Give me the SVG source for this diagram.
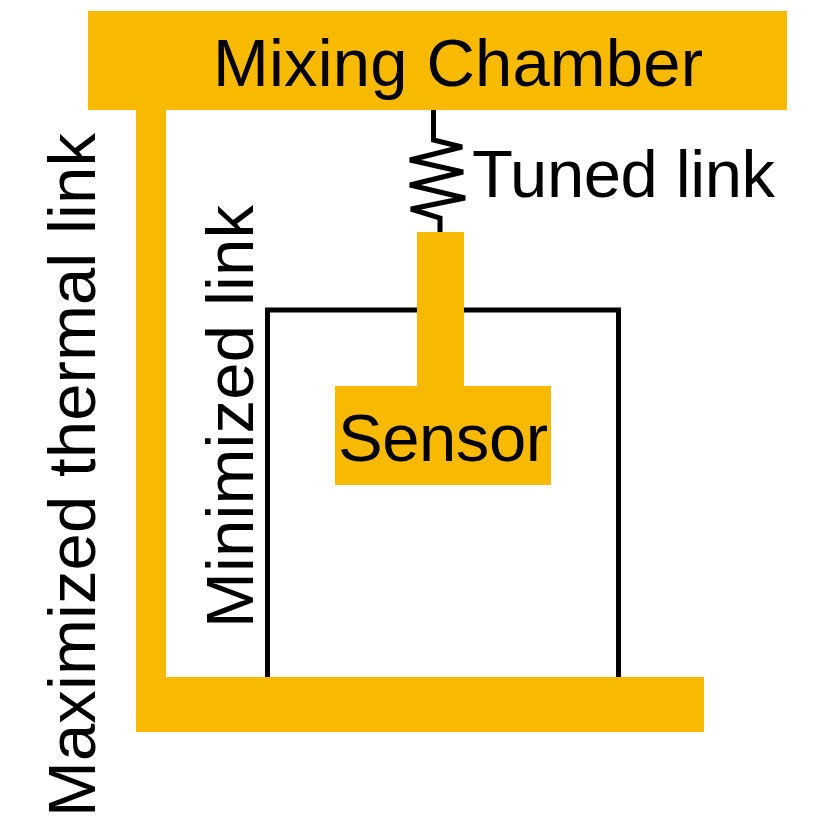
<svg xmlns="http://www.w3.org/2000/svg" width="830" height="816" viewBox="0 0 830 816">
<style>
.o{fill:#f8ba00}
.l{fill:none;stroke:#000;stroke-width:5}
text{font-family:"Liberation Sans",Arial,sans-serif;fill:#000;font-size:67px}
</style>
<rect width="830" height="816" fill="#fff"/>
<g id="connectors">
<path class="l" d="M267.500 678V310H618.500V678"/>
<path class="l" d="M433.500 110V140L462 147L410 160L463 172L410 185L465 198L411 209L440 218V232"/>
</g>
<g id="mixing-chamber"><rect class="o" x="88" y="11" width="699" height="99"/><text x="213" y="86" textLength="490">Mixing Chamber</text></g>
<g id="maximized-link"><path class="o" d="M136 110H166V677H704V732H136Z"/><text transform="translate(94.500 817) rotate(-90)" textLength="684">Maximized thermal link</text></g>
<g id="sensor"><path class="o" d="M417 232H464V386H551V485H335V386H417Z"/><text x="338" y="460.500" textLength="210">Sensor</text></g>
<g id="tuned-link"><text x="472" y="197" textLength="303">Tuned link</text></g>
<g id="minimized-link"><text transform="translate(252.500 628) rotate(-90)" textLength="423">Minimized link</text></g>
</svg>
